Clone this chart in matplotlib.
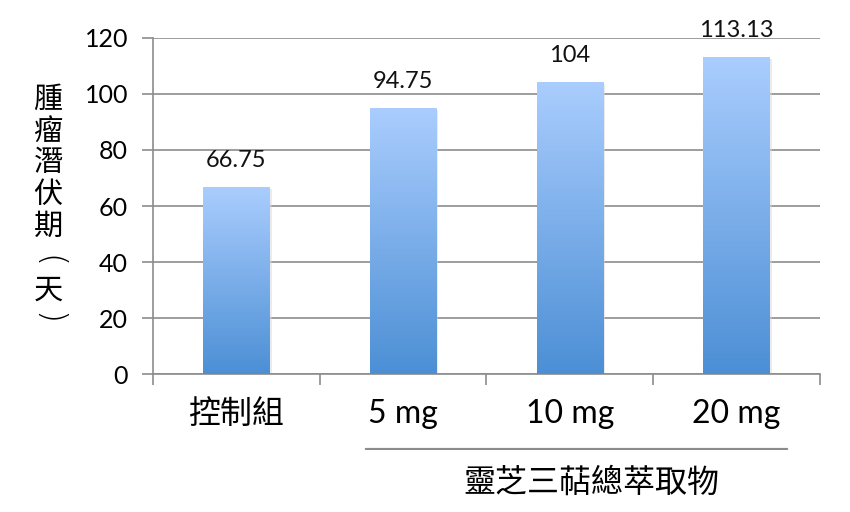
import numpy as np
import matplotlib
matplotlib.use('Agg')
from matplotlib import pyplot as plt
from matplotlib.colors import LinearSegmentedColormap

plt.rcParams['font.family'] = ['Lato', 'Noto Sans CJK TC', 'DejaVu Sans']
cjk = ['Noto Sans CJK TC', 'DejaVu Sans']

# data
categories = ['控制組', '5 mg', '10 mg', '20 mg']
values = [66.75, 94.75, 104, 113.13]
value_labels = ['66.75', '94.75', '104', '113.13']
yticks = [0, 20, 40, 60, 80, 100, 120]
ylabel_chars = ['腫', '瘤', '潛', '伏', '期', '(', '天', ')']
group_label = '靈芝三萜總萃取物'

fig = plt.figure(figsize=(8.5, 5.12), dpi=100)
ax = fig.add_axes([0.18, 0.2695, 0.7847, 0.6563])

x = np.arange(len(categories))
bars = ax.bar(x, values, width=0.4, color='none', zorder=3)

# gradient fill for each bar
cmap = LinearSegmentedColormap.from_list('bg', ['#4c8fd5', '#aacdfe'])
grad = np.linspace(0, 1, 256).reshape(-1, 1)
for b in bars:
    x0, y0 = b.get_x(), b.get_y()
    w, h = b.get_width(), b.get_height()
    # soft shadow
    ax.bar(x0 + w / 2 + 0.012, h, width=w, bottom=-0.6, color='#d8d8d8', alpha=0.5, zorder=2)
    ax.imshow(grad, cmap=cmap, origin='lower', aspect='auto',
              extent=(x0, x0 + w, y0, y0 + h), zorder=3)

for xi, v, lab in zip(x, values, value_labels):
    ax.text(xi, v + 9.6, lab, ha='center', va='center', fontsize=17, color='#111111')

ax.set_xlim(-0.5, len(categories) - 0.5)
ax.set_ylim(0, 120)
ax.set_yticks(yticks)
ax.set_yticklabels([str(t) for t in yticks], fontsize=18)
ax.set_xticks(x)
ax.set_xticklabels(categories, fontsize=23)
ax.set_xticks(np.arange(len(categories) + 1) - 0.5, minor=True)

ax.grid(axis='y', color='#8c8c8c', linewidth=1.2, zorder=1)
ax.set_axisbelow(True)
for s in ['top', 'right']:
    ax.spines[s].set_visible(False)
for s in ['left', 'bottom']:
    ax.spines[s].set_color('#8c8c8c')
    ax.spines[s].set_linewidth(1.2)

ax.tick_params(axis='y', length=8, width=1.2, color='#8c8c8c', pad=10)
ax.tick_params(axis='x', which='major', length=0, pad=18)
ax.tick_params(axis='x', which='minor', length=8, width=1.2, color='#8c8c8c')

# y label, stacked characters; brackets turned into vertical form
for i, ch in enumerate(ylabel_chars):
    ypix = 100 + i * 31.7
    if ch in '()':
        ypix += 3 if ch == '(' else -3
        fig.text(48 / 850, 1 - ypix / 512, ch, ha='center', va='center', fontsize=24,
                 rotation=-90, rotation_mode='anchor', family=['DejaVu Sans'],
                 fontweight='light', transform=fig.transFigure)
    else:
        fig.text(48 / 850, 1 - ypix / 512, ch, ha='center', va='center', fontsize=21, family=cjk)

# group bracket for dose levels
ax.annotate('', xy=(0.759, -0.223), xytext=(3.32, -0.223), xycoords=('data', 'axes fraction'),
            arrowprops=dict(arrowstyle='-', color='#8c8c8c', lw=1.5), annotation_clip=False)
ax.text(2.13, -0.324, group_label, transform=ax.get_xaxis_transform(), ha='center', va='center',
        fontsize=23, family=cjk)

fig.savefig('out.png', dpi=100)
